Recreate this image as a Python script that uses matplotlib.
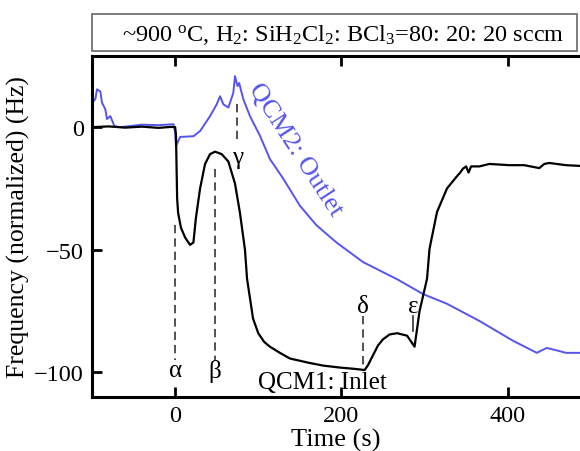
import matplotlib
matplotlib.use("Agg")
import matplotlib.pyplot as plt
from matplotlib.patches import Rectangle

plt.rcParams["font.family"] = ["Liberation Serif", "DejaVu Serif"]
plt.rcParams["mathtext.fontset"] = "custom"
plt.rcParams["mathtext.rm"] = "Liberation Serif"
plt.rcParams["mathtext.it"] = "Liberation Serif:italic"

# QCM1 (inlet), black
inlet_t = [-100, -80, -60, -40, -20, -5, 0, 1, 2.4, 3.6, 7, 12, 18, 22, 25, 30, 36, 42,
           48, 56, 64, 72, 78, 84, 86.5, 93.7, 100, 107, 114, 126, 138, 160, 178, 198,
           215, 228, 232, 238, 244, 250, 258, 267, 279, 288, 294, 303, 306, 315, 327,
           339, 343, 346, 350, 353, 356, 366, 378, 402, 420, 438, 444, 450, 470, 487]
inlet_f = [0, 0.3, -0.2, 0.2, -0.3, 0.1, 0, -3, -29, -35, -41, -45, -48, -47, -37, -25,
           -15, -11, -10, -11, -14, -23, -35, -50, -61.8, -78, -84, -87.5, -89.5, -92,
           -94.3, -96, -97.2, -98, -98.5, -99, -97, -93, -89, -86.5, -84.5, -84, -85,
           -89.5, -75, -61.8, -49.6, -34.6, -25, -20, -18.5, -17, -16, -18.5, -16, -16,
           -15, -15.5, -15.5, -16.7, -15, -14.6, -15.5, -15.8]

# QCM2 (outlet), blue
outlet_t = [-100, -96, -94, -90, -88, -84, -82, -78, -73, -66, -40, -20, -2, 0, 1, 6,
            22, 30, 42, 50, 54, 58, 64, 70, 72, 75, 77, 82, 90, 102, 114, 130, 150,
            170, 194, 226, 267, 298, 327, 366, 406, 435, 447, 459, 470, 487]
outlet_f = [10, 11.4, 15.4, 14.6, 10, 7.3, 3.3, 4.5, 0.4, 0, 1, 0.8, 1.2, -2, -7.7, -4,
            -3.7, -1.6, 4.5, 9.3, 12.6, 9.3, 8, 14, 20.8, 16.7, 18, 11.4, 4.5, -3.5,
            -13, -21, -32, -40, -47, -55, -62, -68, -72, -79, -87, -92, -90, -91, -92,
            -92]

# event markers: label, time, line from/to, label height
ev_label = ["α", "β", "γ", "δ", "ε"]
ev_t = [0, 48, 75, 226, 286]
ev_y0 = [-40, -17, 9.3, -77, -77]
ev_y1 = [-95, -95, -6, -98.5, -83]
ev_ytext = [-99, -99, -12, -73, -73]
ev_dash = [True, True, True, True, False]

fig = plt.figure(figsize=(5.8, 4.52), dpi=100)
ax = fig.add_axes([92 / 580, 1 - 398 / 452, 1 - 92 / 580, (398 - 57) / 452])

blue = "#5555ee"
ax.plot(outlet_t, outlet_f, color=blue, lw=1.4)
ax.plot(inlet_t, inlet_f, color="black", lw=1.6)

for lab, t, y0, y1, yt, dash in zip(ev_label, ev_t, ev_y0, ev_y1, ev_ytext, ev_dash):
    ax.plot([t, t], [y0, y1], color="#333333", lw=1.2,
            ls=(0, (5, 3)) if dash else "-")
    ax.text(t, yt, lab, fontsize=18, ha="center", va="center")

ax.text(145, -9, "QCM2: Outlet", color=blue, fontsize=19, rotation=-57,
        ha="center", va="center")
ax.text(177, -104, "QCM1: Inlet", fontsize=18, ha="center", va="center")

ax.set_xlim(-100, 487)
ax.set_ylim(-110, 29)
ax.set_xticks([0, 200, 400])
ax.set_yticks([-100, -50, 0])
ax.tick_params(direction="in", top=True, length=7, width=2, labelsize=17.5, pad=6)
for s in ["left", "bottom", "top"]:
    ax.spines[s].set_linewidth(2.2)
ax.spines["right"].set_visible(False)
ax.set_xlabel("Time (s)", fontsize=19, labelpad=1)
ax.set_ylabel("Frequency (normalized) (Hz)", fontsize=18.5, labelpad=3)

fig.patches.append(Rectangle((92 / 580, 1 - 52 / 452), (577 - 92) / 580, 37 / 452,
                             transform=fig.transFigure, fill=False,
                             edgecolor="#666666", lw=1.2))
fig.text(343 / 580, 1 - 35 / 452,
         r"~900 $^{\rm o}$C, H$_2$: SiH$_2$Cl$_2$: BCl$_3$=80: 20: 20 sccm",
         fontsize=17.5, ha="center", va="center")

fig.savefig("out.png", dpi=100)
